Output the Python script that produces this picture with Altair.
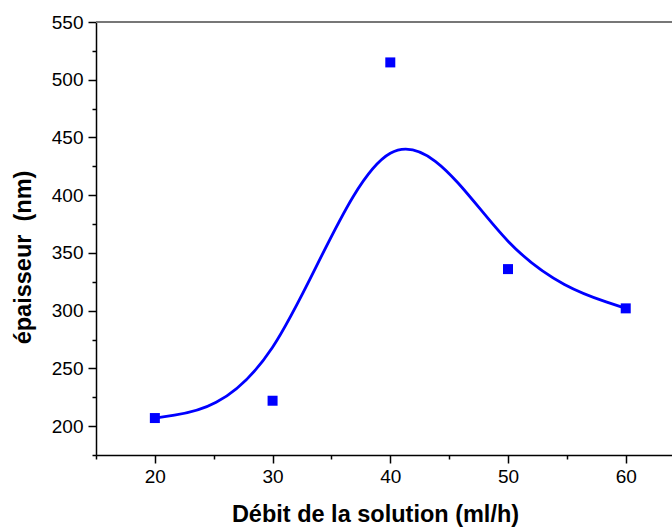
import altair as alt
import pandas as pd

# Solution flow rate (ml/h) and measured film thickness (nm)
debit = [20, 30, 40, 50, 60]
epaisseur = [207, 222, 515, 336, 302]

x_ticks = [15, 20, 25, 30, 35, 40, 45, 50, 55, 60]
y_ticks = [175, 200, 225, 250, 275, 300, 325, 350, 375, 400, 425, 450, 475, 500, 525, 550]

df = pd.DataFrame({"debit": debit, "epaisseur": epaisseur})

FONT = "Liberation Sans"
BLUE = "#0000FF"

x_enc = alt.X(
    "debit:Q",
    scale=alt.Scale(domain=[15, 63.93], nice=False, zero=False),
    axis=alt.Axis(
        title="Débit de la solution (ml/h)",
        values=x_ticks,
        labelExpr="datum.value % 10 === 0 ? datum.label : ''",
        tickSize=alt.condition("datum.value % 10 === 0", alt.value(8), alt.value(4)),
        labelOverlap=False,
        labelFlush=False,
        grid=False,
        titleX=279,
    ),
)
y_enc = alt.Y(
    "epaisseur:Q",
    scale=alt.Scale(domain=[175, 550], nice=False, zero=False),
    axis=alt.Axis(
        title="épaisseur\u00a0\u00a0(nm)",
        values=y_ticks,
        labelExpr="datum.value % 50 === 0 ? datum.label : ''",
        tickSize=alt.condition("datum.value % 50 === 0", alt.value(8), alt.value(4)),
        labelOverlap=False,
        labelFlush=False,
        grid=False,
        titleY=235,
    ),
)

base = alt.Chart(df)

curve = base.mark_line(interpolate="basis", color=BLUE, strokeWidth=2.8).encode(x=x_enc, y=y_enc)
points = base.mark_square(color=BLUE, size=100, opacity=1).encode(x=x_enc, y=y_enc)
# thin grey border along the top of the plot area
frame_top = base.mark_rule(color="#777777", strokeWidth=1.3).encode(y=alt.value(0))

chart = (
    alt.layer(curve, points, frame_top)
    .properties(
        width=576,
        height=433,
        autosize=alt.AutoSizeParams(type="none"),
        padding={"left": 96, "top": 22, "right": 0, "bottom": 72},
    )
    .configure_view(stroke=None)
    .configure_axis(
        domainColor="black",
        domainWidth=1.5,
        tickColor="black",
        tickWidth=1.5,
        labelFont=FONT,
        labelFontSize=19,
        labelColor="black",
        titleFont=FONT,
        titleFontSize=23.5,
        titleFontWeight="bold",
        titleColor="black",
    )
    .configure_axisX(labelPadding=4, titlePadding=16)
    .configure_axisY(labelPadding=5, titlePadding=16)
)

chart.save("out.html", embed_options={"renderer": "svg", "actions": False})
